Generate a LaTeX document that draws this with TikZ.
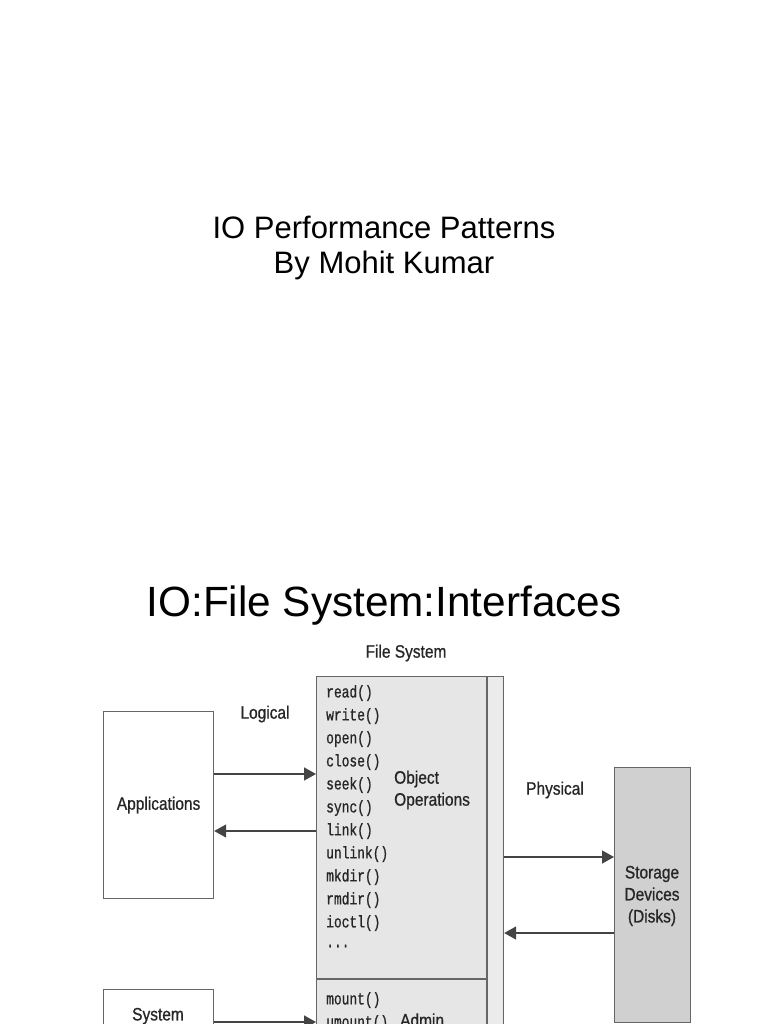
\documentclass[tikz,border=0pt]{standalone}
\usepackage{fontspec}
\setmainfont{Liberation Sans}
\newfontfamily\narrowfont[FakeStretch=0.86,FakeBold=0.8]{Liberation Sans}
\newfontfamily\codefont[FakeStretch=0.76,FakeBold=0.8]{Liberation Mono}
\usetikzlibrary{arrows.meta}
\definecolor{linegray}{HTML}{444444}
\definecolor{boxgray}{HTML}{666666}
\definecolor{fsfill}{HTML}{E6E6E6}
\definecolor{stripfill}{HTML}{EBEBEB}
\definecolor{diskfill}{HTML}{D0D0D0}
\tikzset{
  box/.style={draw=boxgray, line width=1.2pt, anchor=north west, inner sep=0pt},
  lbl/.style={font=\narrowfont\fontsize{18}{22}\selectfont, text=black!85, inner sep=0pt},
  code/.style={font=\codefont\fontsize{17}{23}\selectfont, text=black!85, inner sep=0pt, anchor=west},
  arr/.style={draw=linegray, line width=1.5pt, -{Triangle[length=12pt,width=13pt]}},
}
\begin{document}
\begin{tikzpicture}[x=1pt,y=-1pt]
\useasboundingbox (0,0) rectangle (768,1024);
\clip (0,0) rectangle (768,1024);
\fill[white] (0,0) rectangle (768,1024);
% titles
\node[font=\fontsize{31}{36}\selectfont, align=center, inner sep=0pt] (title) at (384,248) {IO Performance Patterns\\[-0.1ex]By Mohit Kumar};
\node[font=\fontsize{42.3}{48}\selectfont, inner sep=0pt] (head) at (384,606) {IO:File System:Interfaces};
% boxes
\node[box, fill=white, minimum width=110pt, minimum height=187pt] (app) at (103,711) {};
\node[lbl] at (app.center) {Applications};
\node[box, fill=white, minimum width=110pt, minimum height=100pt] (sys) at (103,989) {};
\node[lbl] at (158,1016) {System};
\node[box, fill=fsfill, minimum width=187pt, minimum height=400pt] (fs) at (316,676) {};
\fill[stripfill] (487,677) rectangle (502,1030);
\draw[boxgray, line width=1.2pt] (487,676) -- (487,1030);
\draw[boxgray, line width=1.2pt] (316,979) -- (487,979);
\node[box, fill=diskfill, minimum width=76pt, minimum height=255pt] (disk) at (614,767) {};
\node[lbl, align=center] at (652,896) {Storage\\Devices\\(Disks)};
% labels
\node[lbl] (fslbl) at (406,653) {File System};
\node[lbl] (logical) at (265,714) {Logical};
\node[lbl] (physical) at (555,790) {Physical};
\node[lbl, align=left, anchor=west] (objops) at (394,790) {Object\\Operations};
\node[lbl, anchor=west] (admin) at (400,1020) {Admin};
% code list
\node[code] at (326,693) {read()};
\node[code] at (326,716) {write()};
\node[code] at (326,739) {open()};
\node[code] at (326,762) {close()};
\node[code] at (326,785) {seek()};
\node[code] at (326,808) {sync()};
\node[code] at (326,831) {link()};
\node[code] at (326,854) {unlink()};
\node[code] at (326,877) {mkdir()};
\node[code] at (326,900) {rmdir()};
\node[code] at (326,923) {ioctl()};
\node[code] at (326,946) {...};
\node[code] at (326,1000) {mount()};
\node[code] at (326,1023) {umount()};
% arrows
\draw[arr] (app.east |- 0,774) -- (fs.west |- 0,774);
\draw[arr] (fs.west |- 0,831) -- (app.east |- 0,831);
\draw[arr] (fs.east |- 0,857) -- (disk.west |- 0,857);
\draw[arr] (disk.west |- 0,933) -- (fs.east |- 0,933);
\draw[arr] (sys.east |- 0,1022) -- (fs.west |- 0,1022);
\end{tikzpicture}
\end{document}
